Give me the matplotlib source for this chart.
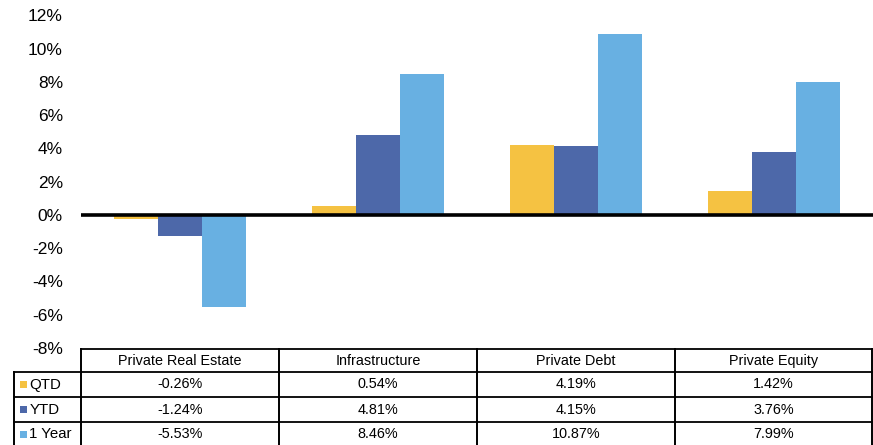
import matplotlib
matplotlib.use("Agg")
import matplotlib.pyplot as plt
from matplotlib.lines import Line2D
from matplotlib.patches import Rectangle
import numpy as np

categories = ["Private Real Estate", "Infrastructure", "Private Debt", "Private Equity"]
series_names = ["QTD", "YTD", "1 Year"]
qtd = [-0.26, 0.54, 4.19, 1.42]
ytd = [-1.24, 4.81, 4.15, 3.76]
one_year = [-5.53, 8.46, 10.87, 7.99]
series_values = [qtd, ytd, one_year]
colors = ["#F5C242", "#4D68A9", "#68B0E2"]
yticks = [-8, -6, -4, -2, 0, 2, 4, 6, 8, 10, 12]

plt.rcParams['font.family'] = ['Liberation Sans', 'DejaVu Sans']

W, H = 873, 445
fig = plt.figure(figsize=(W / 100, H / 100), dpi=100)

left_px, right_px, top_px, bottom_px = 81, 873, 15.5, 348
ax = fig.add_axes([left_px / W, 1 - bottom_px / H, (right_px - left_px) / W, (bottom_px - top_px) / H])

x = np.arange(len(categories))
bw = 0.222
for i, (vals, c) in enumerate(zip(series_values, colors)):
    ax.bar(x + (i - 1) * bw, vals, width=bw, color=c, edgecolor='none', zorder=2)

ax.axhline(0, color='black', lw=2.6, zorder=3)
ax.set_xlim(-0.5, len(categories) - 0.5)
ax.set_ylim(-8, 12)
ax.set_yticks(yticks)
ax.set_yticklabels([f"{t}%" for t in yticks], fontsize=12.5)
ax.tick_params(axis='y', length=0, pad=13)
ax.set_xticks([])
for s in ax.spines.values():
    s.set_visible(False)


def fx(px):
    return px / W


def fy(py):
    return 1 - py / H


def hline(x0, x1, y, lw=1.3):
    fig.add_artist(Line2D([fx(x0), fx(x1)], [fy(y), fy(y)], color='black', lw=lw,
                          transform=fig.transFigure))


def vline(x0, y0, y1, lw=1.4):
    fig.add_artist(Line2D([fx(x0), fx(x0)], [fy(y0), fy(y1)], color='black', lw=lw,
                          transform=fig.transFigure))


# table geometry
col_edges = [81, 279, 477, 675, 872]
label_left = 14
row_edges = [349, 371.5, 396.5, 421.5, 446.5]

hline(col_edges[0], col_edges[-1], row_edges[0])
for ry in row_edges[1:4]:
    hline(label_left, col_edges[-1], ry)
for cx in col_edges:
    vline(cx, row_edges[0], 446)
vline(label_left, row_edges[1], 446)

fs = 10.4
for j, cat in enumerate(categories):
    cx = (col_edges[j] + col_edges[j + 1]) / 2
    fig.text(fx(cx), fy((row_edges[0] + row_edges[1]) / 2 + 0.5), cat, ha='center', va='center', fontsize=fs)
    for i, vals in enumerate(series_values):
        cy = (row_edges[i + 1] + row_edges[i + 2]) / 2
        fig.text(fx(cx), fy(cy + 0.5), f"{vals[j]:.2f}%", ha='center', va='center', fontsize=fs)

for i, (name, c) in enumerate(zip(series_names, colors)):
    cy = (row_edges[i + 1] + row_edges[i + 2]) / 2
    fig.add_artist(Rectangle((fx(19.5), fy(cy + 3.5)), 7.5 / W, 7 / H, color=c,
                             transform=fig.transFigure, lw=0))
    fig.text(fx(29.5), fy(cy + 0.5), name, ha='left', va='center', fontsize=10.8)

fig.savefig("out.png", dpi=100)
